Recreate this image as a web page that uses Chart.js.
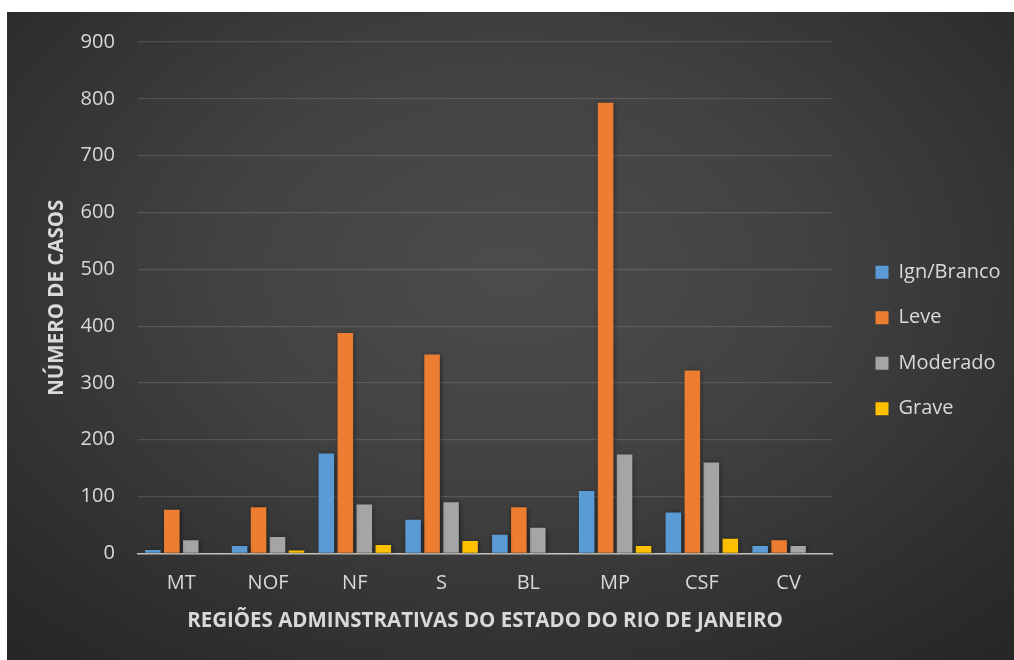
<!DOCTYPE html>
<html lang="pt-BR">
<head>
<meta charset="utf-8">
<title>Casos por região administrativa - RJ</title>
<script src="https://cdn.jsdelivr.net/npm/chart.js@4.4.1/dist/chart.umd.min.js"></script>
<style>
    body { margin: 0; background: #ffffff; }
    #wrap {
        position: absolute;
        left: 7px;
        top: 12px;
        width: 1007px;
        height: 648px;
        background: radial-gradient(ellipse 72% 78% at 50% 40%, #4c4c4c 0%, #424242 40%, #2d2d2d 85%, #272727 100%);
    }
</style>
</head>
<body>
<div id="wrap"><canvas id="casesChart"></canvas></div>
<script>
const regions = ['MT', 'NOF', 'NF', 'S', 'BL', 'MP', 'CSF', 'CV'];
const ignBranco = [6, 13, 176, 59, 33, 110, 72, 13];
const leve = [77, 81, 388, 350, 81, 793, 322, 23];
const moderado = [23, 29, 86, 90, 45, 174, 160, 13];
const grave = [1, 5, 15, 22, 0, 13, 26, 1];
const yTicks = [0, 100, 200, 300, 400, 500, 600, 700, 800, 900];

const TEXT = '#d9d9d9';
const FONT = "'Open Sans', 'Noto Sans', sans-serif";
const LEGEND_W = 182;   // room kept on the right for the legend
const LEGEND_GAP = 18;  // extra space between plot and legend

// soft drop shadow behind the bars
const barShadow = {
    id: 'barShadow',
    beforeDatasetsDraw(chart) {
        const ctx = chart.ctx;
        ctx.save();
        ctx.shadowColor = 'rgba(0, 0, 0, 0.55)';
        ctx.shadowBlur = 5;
        ctx.shadowOffsetX = 1;
        ctx.shadowOffsetY = 1;
    },
    afterDatasetsDraw(chart) {
        chart.ctx.restore();
    }
};

// fixed legend width, legend pushed a bit away from the plot
const legendSpacing = {
    id: 'legendSpacing',
    beforeInit(chart) {
        const fit = chart.legend.fit;
        chart.legend.fit = function () {
            fit.call(this);
            this.width = LEGEND_W;
        };
    },
    afterLayout(chart) {
        const lg = chart.legend;
        lg.left = chart.chartArea.right + LEGEND_GAP;
        lg.right = lg.left + lg.width;
        lg.top += 3;
        lg.bottom += 3;
    }
};

function series(label, data, color) {
    return {
        label: label,
        data: data,
        backgroundColor: color,
        borderWidth: 0,
        categoryPercentage: 0.875,
        barPercentage: 0.82
    };
}

const ctx = document.getElementById('casesChart').getContext('2d');
new Chart(ctx, {
    type: 'bar',
    data: {
        labels: regions,
        datasets: [
            series('Ign/Branco', ignBranco, '#5b9bd5'),
            series('Leve', leve, '#ed7d31'),
            series('Moderado', moderado, '#a5a5a5'),
            series('Grave', grave, '#ffc000')
        ]
    },
    options: {
        responsive: true,
        maintainAspectRatio: false,
        animation: false,
        layout: {
            padding: { top: 30, left: 37, right: 0, bottom: 27 }
        },
        scales: {
            x: {
                grid: { display: false, drawTicks: false },
                border: { display: true, color: '#c9c5bb', width: 1.5 },
                ticks: {
                    color: TEXT,
                    padding: 18,
                    font: { family: FONT, size: 20 }
                },
                title: {
                    display: true,
                    text: 'REGIÕES ADMINSTRATIVAS DO ESTADO DO RIO DE JANEIRO',
                    color: TEXT,
                    font: { family: FONT, size: 20.5, weight: 'bold' },
                    padding: { top: 14, bottom: 0 }
                },
                // tighten the gap between tick labels and title
                afterFit(axis) {
                    axis.height -= 19;
                }
            },
            y: {
                min: 0,
                max: 900,
                afterBuildTicks(axis) {
                    axis.ticks = yTicks.map(v => ({ value: v }));
                },
                grid: {
                    drawTicks: false,
                    lineWidth: 1.2,
                    color: c => c.tick && c.tick.value === 0 ? 'rgba(0,0,0,0)' : 'rgba(255, 255, 255, 0.13)'
                },
                border: { display: false },
                ticks: {
                    color: TEXT,
                    padding: 23,
                    font: { family: FONT, size: 20 }
                },
                title: {
                    display: true,
                    text: 'NÚMERO DE CASOS',
                    color: TEXT,
                    font: { family: FONT, size: 20.5, weight: 'bold' },
                    padding: { top: 1, bottom: 0 }
                },
                afterFit(axis) {
                    axis.width -= 12;
                    axis.paddingTop = 10;
                }
            }
        },
        plugins: {
            legend: {
                position: 'right',
                labels: {
                    color: TEXT,
                    boxWidth: 13,
                    boxHeight: 13,
                    padding: 25.5,
                    font: { family: FONT, size: 20 }
                }
            },
            tooltip: { enabled: false }
        }
    },
    plugins: [barShadow, legendSpacing]
});
</script>
</body>
</html>
